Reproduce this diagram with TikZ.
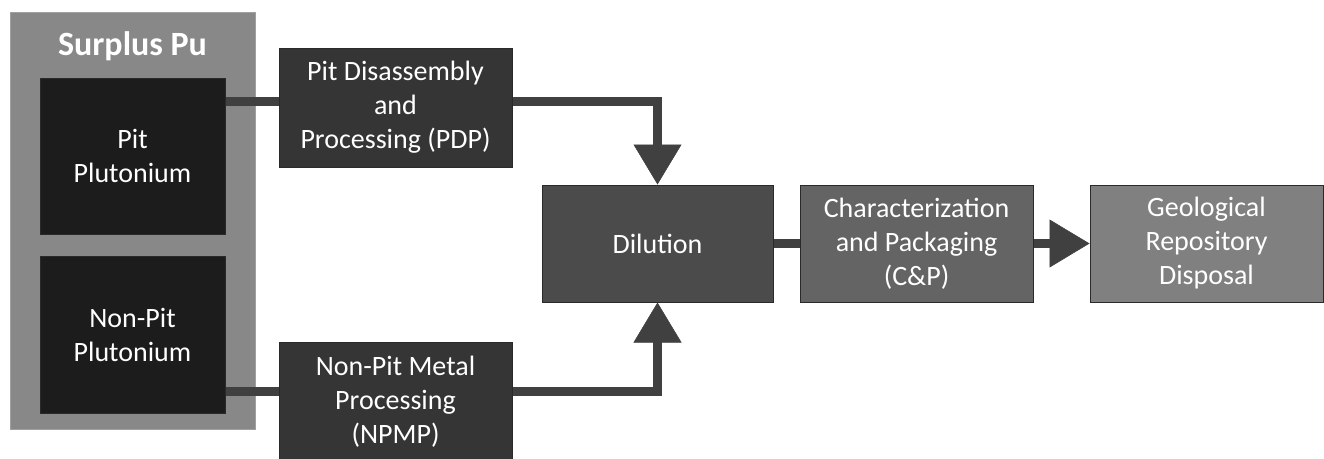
\documentclass[tikz,border=0pt]{standalone}
\usepackage{fontspec}
\setmainfont{Carlito}
\usetikzlibrary{positioning,arrows.meta}

\definecolor{groupfill}{HTML}{888888}
\definecolor{groupline}{HTML}{A0A0A0}
\definecolor{srcfill}{HTML}{1C1C1C}
\definecolor{procfill}{HTML}{353535}
\definecolor{dilfill}{HTML}{4B4B4B}
\definecolor{cpfill}{HTML}{646464}
\definecolor{geofill}{HTML}{808080}
\definecolor{boxline}{HTML}{2A2A2A}
\definecolor{linkgray}{HTML}{404040}

\tikzset{
  stepbox/.style={draw=boxline, line width=1pt, text=white, align=center,
    inner sep=0pt, font=\fontsize{28}{34}\selectfont},
  link/.style={draw=linkgray, line width=9pt},
  flow/.style={link, -{Triangle[width=48pt,length=40pt,line width=0.5pt]}}
}

\begin{document}
\begin{tikzpicture}[x=1pt,y=-1pt]
    \useasboundingbox (0,0) rectangle (1324,458);

    \node[stepbox, draw=groupline, fill=groupfill, minimum width=245pt, minimum height=417pt] (surplus) at (132.5,220.5) {};
    \node[text=white, font=\bfseries\fontsize{34}{40}\selectfont] (title) at (132.5,46) {Surplus Pu};
    \node[stepbox, fill=srcfill, minimum width=185pt, minimum height=156pt] (pit) at (132.5,156) {Pit\\Plutonium};
    \node[stepbox, fill=srcfill, minimum width=185pt, minimum height=157pt] (nonpit) at (132.5,334.5) {Non-Pit\\Plutonium};

    \node[stepbox, fill=procfill, minimum width=233pt, minimum height=119pt] (pdp) at (395.5,107.5) {Pit Disassembly\\and\\Processing (PDP)};
    \node[stepbox, fill=procfill, minimum width=233pt, minimum height=119pt] (npmp) at (395.5,401.5) {Non-Pit Metal\\Processing\\(NPMP)};

    \node[stepbox, fill=dilfill, minimum width=231pt, minimum height=117pt] (dil) at (657.5,243.5) {Dilution};
    \node[stepbox, fill=cpfill, minimum width=233pt, minimum height=117pt, right=26pt of dil] (cp) {Characterization\\and Packaging\\(C\&P)};
    \node[stepbox, fill=geofill, minimum width=233pt, minimum height=117pt, right=56pt of cp] (geo) {Geological\\Repository\\Disposal};

    \coordinate (pdpin) at ([yshift=6pt]pdp.west);
    \coordinate (npmpin) at ([yshift=10pt]npmp.west);

    \draw[link] (pit.east |- pdpin) -- (pdpin);
    \draw[link] (nonpit.east |- npmpin) -- (npmpin);
    \draw[flow] (pdp.east |- pdpin) -| (dil.north);
    \draw[flow] (npmp.east |- npmpin) -| (dil.south);
    \draw[link] (dil) -- (cp);
    \draw[flow] (cp) -- (geo);
\end{tikzpicture}
\end{document}
